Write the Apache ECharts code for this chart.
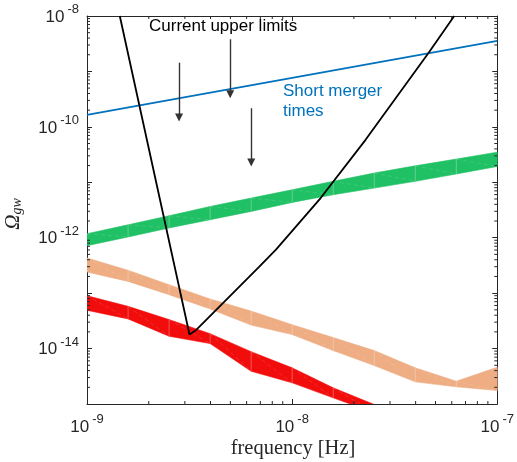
<!DOCTYPE html>
<html><head><meta charset="utf-8">
<script src="https://cdn.jsdelivr.net/npm/echarts@6/dist/echarts.min.js"></script>
<style>html,body{margin:0;padding:0;background:#fff}#c{width:517px;height:462px}</style>
</head><body><div id="c"></div>
<script>
// ---- data ----
const freq = [1e-9, 1.585e-9, 2.512e-9, 3.981e-9, 6.31e-9, 1e-8, 1.585e-8, 2.512e-8, 3.981e-8, 6.31e-8, 1e-7];
const greenTop    = [1.18e-12, 1.71e-12, 2.49e-12, 3.66e-12, 5.19e-12, 7.33e-12, 1.04e-11, 1.47e-11, 1.98e-11, 2.62e-11, 3.50e-11];
const greenBottom = [7.18e-13, 1.03e-12, 1.50e-12, 2.11e-12, 2.98e-12, 4.33e-12, 5.96e-12, 7.85e-12, 1.04e-11, 1.41e-11, 1.93e-11];
const orangeTop    = [4.31e-13, 2.58e-13, 1.42e-13, 7.85e-14, 4.74e-14, 2.70e-14, 1.58e-14, 9.2e-15, 4.49e-15, 2.58e-15, 4.60e-15];
const orangeBottom = [2.41e-13, 1.63e-13, 9.4e-14, 5.19e-14, 2.65e-14, 1.79e-14, 9.2e-15, 4.94e-15, 2.51e-15, 2.04e-15, 1.75e-15];
const redTop    = [9.0e-14, 5.78e-14, 3.33e-14, 1.86e-14, 8.8e-15, 4.49e-15, 1.96e-15, 9.8e-16];
const redBottom = [4.9e-14, 3.43e-14, 1.67e-14, 1.23e-14, 3.9e-15, 2.41e-15, 1.29e-15, 7.0e-16];
const mergerFreq  = [1e-9, 1e-7];
const mergerOmega = [1.64e-10, 3.55e-9];
const limitFreq  = [1.445e-9, 3.16e-9, 3.38e-9, 6.92e-9, 8.34e-9, 1.377e-8, 2.28e-8, 4.62e-8, 6.17e-8];
const limitOmega = [1e-8, 1.79e-14, 2.11e-14, 3.0e-13, 6.08e-13, 5.19e-12, 5.83e-11, 2.15e-9, 1e-8];
const arrowFreq  = [2.81e-9, 4.99e-9, 6.32e-9];
const arrowFrom  = [1.44e-9, 3.8e-9, 2.17e-10];
const arrowTo    = [1.47e-10, 3.88e-10, 2.28e-11];
const xRange = [1e-9, 1e-7];
const yRange = [1e-15, 1e-8];
const yLabelExps = [-8, -10, -12, -14];
const minorMult = [2, 3, 4, 5, 6, 7, 8, 9];
const xDecades = [-9, -8];
const yDecades = [-15, -14, -13, -12, -11, -10, -9];

const AX = '#262626';
const FONT = "'Liberation Sans', Arial, Helvetica, sans-serif";
const SERIF = "'Liberation Serif', 'Times New Roman', serif";

function expOf(v) { return Math.round(Math.log10(v)); }
const labelRich = {
  b: { fontSize: 17, fontFamily: FONT, color: AX, padding: [2, 0, 0, 0] },
  s: { fontSize: 13, fontFamily: FONT, color: AX, padding: [0, 0, 13, 3] }
};

function bandData(top, bot) {
  const d = [];
  for (let i = 0; i < top.length - 1; i++) d.push([freq[i], top[i], bot[i], freq[i + 1], top[i + 1], bot[i + 1]]);
  return d;
}
function bandSeries(top, bot, color) {
  return {
    type: 'custom', xAxisIndex: 0, yAxisIndex: 0, clip: true, silent: true,
    encode: { x: [0, 3], y: [1, 2, 4, 5] },
    data: bandData(top, bot),
    renderItem: function (params, api) {
      const a = api.coord([api.value(0), api.value(1)]);
      const b = api.coord([api.value(3), api.value(4)]);
      const c = api.coord([api.value(3), api.value(5)]);
      const d = api.coord([api.value(0), api.value(2)]);
      const children = [{
        type: 'polygon', shape: { points: [a, b, c, d] },
        style: { fill: color, stroke: color, lineWidth: 0.6 }
      }];
      if (params.dataIndex > 0) {
        children.push({ type: 'line', shape: { x1: a[0], y1: a[1], x2: d[0], y2: d[1] },
          style: { stroke: 'rgba(255,255,255,0.35)', lineWidth: 0.8 } });
      }
      children.push({ type: 'line', shape: { x1: a[0], y1: a[1], x2: c[0], y2: c[1] },
        style: { stroke: 'rgba(255,255,255,0.18)', lineWidth: 0.7, lineDash: [4, 3] } });
      return { type: 'group', children: children };
    }
  };
}

const xMinor = [];
xDecades.forEach(e => minorMult.forEach(m => xMinor.push([m * Math.pow(10, e), yRange[0]])));
const yMinor = [];
yDecades.forEach(e => minorMult.forEach(m => yMinor.push([xRange[0], m * Math.pow(10, e)])));

const chart = echarts.init(document.getElementById('c'), null, { renderer: 'canvas' });

function axisCommon(pos, labels) {
  return {
    type: 'log', logBase: 10, position: pos,
    axisLine: { show: true, onZero: false, lineStyle: { color: AX, width: 1 } },
    axisTick: { show: true, inside: true, length: 5, lineStyle: { color: AX, width: 1 } },
    minorTick: { show: false }, splitLine: { show: false }, minorSplitLine: { show: false },
    axisLabel: labels ? labels : { show: false }
  };
}

const option = {
  animation: false,
  backgroundColor: '#fff',
  grid: { left: 87, right: 18, top: 16, bottom: 58, containLabel: false },
  xAxis: [
    Object.assign(axisCommon('bottom', {
      show: true, margin: 9, hideOverlap: false, showMinLabel: true, showMaxLabel: true,
      formatter: v => '{b|10}{s|-' + Math.abs(expOf(v)) + '}', rich: labelRich
    }), { min: xRange[0], max: xRange[1], interval: 1 }),
    Object.assign(axisCommon('top', null), { min: xRange[0], max: xRange[1], interval: 1 })
  ],
  yAxis: [
    Object.assign(axisCommon('left', {
      show: true, margin: 8, hideOverlap: false, showMinLabel: true, showMaxLabel: true,
      formatter: v => { const e = expOf(v); return yLabelExps.indexOf(e) >= 0 ? '{b|10}{s|-' + Math.abs(e) + '}' : ''; },
      rich: labelRich
    }), { min: yRange[0], max: yRange[1], interval: 1 }),
    Object.assign(axisCommon('right', null), { min: yRange[0], max: yRange[1], interval: 1 })
  ],
  graphic: [
    { type: 'text', x: 149, y: 26.5, silent: true,
      style: { text: 'Current upper limits', font: '17px ' + FONT, fill: '#000', align: 'left', verticalAlign: 'middle' } },
    { type: 'text', x: 283, y: 101.5, silent: true,
      style: { text: 'Short merger\ntimes', font: '17px ' + FONT, fill: '#0072BD', align: 'left', verticalAlign: 'middle', lineHeight: 20.6 } },
    { type: 'text', x: 293, y: 449, silent: true,
      style: { text: 'frequency [Hz]', font: '20.5px ' + SERIF, fill: AX, align: 'center', verticalAlign: 'middle' } },
    { type: 'text', x: 13, y: 214, rotation: Math.PI / 2, silent: true,
      style: { text: '{o|Ω}{g|gw}', align: 'center', verticalAlign: 'middle',
        rich: {
          o: { fontSize: 21, fontFamily: SERIF, fontStyle: 'italic', fill: AX, color: AX },
          g: { fontSize: 14, fontFamily: SERIF, fontStyle: 'italic', fill: AX, color: AX, padding: [9, 0, 0, 0] }
        } } }
  ],
  series: [
    bandSeries(greenTop, greenBottom, '#20C065'),
    bandSeries(orangeTop, orangeBottom, '#EEAD83'),
    bandSeries(redTop, redBottom, '#F20D0D'),
    {
      type: 'line', name: 'merger', data: mergerFreq.map((f, i) => [f, mergerOmega[i]]),
      showSymbol: false, symbol: 'none', clip: true, silent: true,
      lineStyle: { color: '#0072BD', width: 1.8 }
    },
    {
      type: 'line', name: 'limits', data: limitFreq.map((f, i) => [f, limitOmega[i]]),
      showSymbol: false, symbol: 'none', clip: true, silent: true,
      lineStyle: { color: '#000', width: 1.8 },
      markLine: {
        silent: true, animation: false, symbol: ['none', 'triangle'], symbolSize: [8, 8],
        label: { show: false },
        lineStyle: { color: '#333', width: 1.4, type: 'solid' },
        emphasis: { disabled: true },
        data: arrowFreq.map((f, i) => [{ coord: [f, arrowFrom[i]] }, { coord: [f, arrowTo[i]] }])
      }
    },
    {
      type: 'custom', clip: false, silent: true, data: xMinor,
      renderItem: function (params, api) {
        const p1 = api.coord([api.value(0), yRange[0]]);
        const p2 = api.coord([api.value(0), yRange[1]]);
        return { type: 'group', children: [
          { type: 'line', shape: { x1: p1[0], y1: p1[1], x2: p1[0], y2: p1[1] - 3 }, style: { stroke: AX, lineWidth: 1 } },
          { type: 'line', shape: { x1: p2[0], y1: p2[1], x2: p2[0], y2: p2[1] + 3 }, style: { stroke: AX, lineWidth: 1 } }
        ] };
      }
    },
    {
      type: 'custom', clip: false, silent: true, data: yMinor,
      renderItem: function (params, api) {
        const p1 = api.coord([xRange[0], api.value(1)]);
        const p2 = api.coord([xRange[1], api.value(1)]);
        return { type: 'group', children: [
          { type: 'line', shape: { x1: p1[0], y1: p1[1], x2: p1[0] + 3, y2: p1[1] }, style: { stroke: AX, lineWidth: 1 } },
          { type: 'line', shape: { x1: p2[0], y1: p2[1], x2: p2[0] - 3, y2: p2[1] }, style: { stroke: AX, lineWidth: 1 } }
        ] };
      }
    }
  ]
};
chart.setOption(option);
</script>
</body></html>
